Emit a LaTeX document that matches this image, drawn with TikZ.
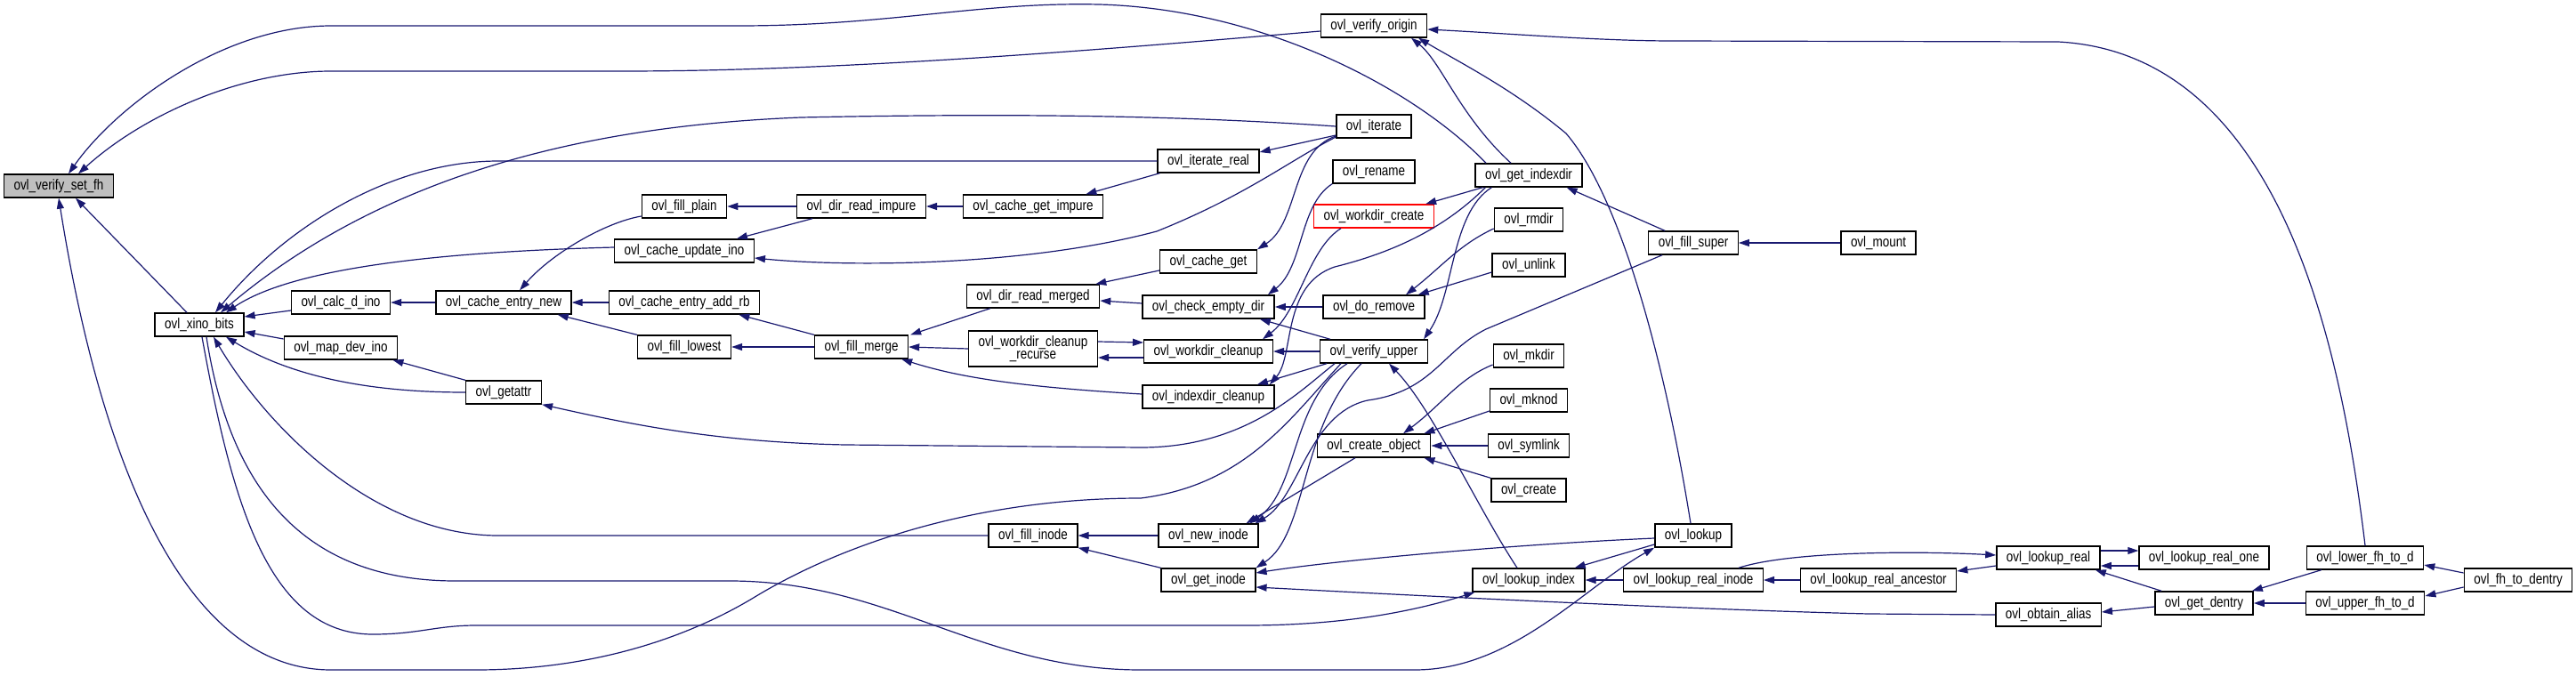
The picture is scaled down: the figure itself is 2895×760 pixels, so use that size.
\documentclass[tikz,border=0pt]{standalone}
\usepackage{fontspec}
\setmainfont[FakeStretch=0.82]{Liberation Sans}
\usetikzlibrary{arrows.meta}
\definecolor{edgeblue}{RGB}{25,25,112}
\definecolor{rootgrey}{RGB}{191,191,191}
\tikzset{
    fn/.style={
        draw=black,
        line width=1.4pt,
        fill=white,
        font=\fontsize{16.4}{14.5}\selectfont,
        align=center,
        inner xsep=11pt,
        inner ysep=2pt,
        minimum height=26pt
    },
    rootfn/.style={
        fn,
        fill=rootgrey
    },
    redfn/.style={
        fn,
        draw=red
    },
    arrow/.style={-{Triangle[length=12pt,width=8pt]}, line width=1.2pt, color=edgeblue}
}

\begin{document}
\begin{tikzpicture}[x=1pt,y=-1pt]
\useasboundingbox (0,0) rectangle (2895,760);

% Function nodes
\node[rootfn] (root) at (66,209) {ovl\_verify\_set\_fh};
\node[fn] (xino) at (224,365) {ovl\_xino\_bits};
\node[fn] (calcdino) at (383,340) {ovl\_calc\_d\_ino};
\node[fn] (mapdev) at (383,391) {ovl\_map\_dev\_ino};
\node[fn] (centrynew) at (566,340) {ovl\_cache\_entry\_new};
\node[fn] (getattr) at (566,441) {ovl\_getattr};
\node[fn] (fillplain) at (769,232) {ovl\_fill\_plain};
\node[fn] (updino) at (769,282) {ovl\_cache\_update\_ino};
\node[fn] (addrb) at (769,340) {ovl\_cache\_entry\_add\_rb};
\node[fn] (filllowest) at (769,390) {ovl\_fill\_lowest};
\node[fn] (direadimpure) at (968,232) {ovl\_dir\_read\_impure};
\node[fn] (fillmerge) at (968,390) {ovl\_fill\_merge};
\node[fn] (cgetimpure) at (1161,232) {ovl\_cache\_get\_impure};
\node[fn] (direadmerged) at (1161,333) {ovl\_dir\_read\_merged};
\node[fn, minimum height=40pt] (wdrecurse) at (1161,392) {ovl\_workdir\_cleanup\\\_recurse};
\node[fn] (fillinode) at (1161,602) {ovl\_fill\_inode};
\node[fn] (iterreal) at (1358,181) {ovl\_iterate\_real};
\node[fn] (cacheget) at (1358,294) {ovl\_cache\_get};
\node[fn] (checkempty) at (1358,345) {ovl\_check\_empty\_dir};
\node[fn] (wdcleanup) at (1358,395) {ovl\_workdir\_cleanup};
\node[fn] (idxcleanup) at (1358,446) {ovl\_indexdir\_cleanup};
\node[fn] (newinode) at (1358,602) {ovl\_new\_inode};
\node[fn] (getinode) at (1358,652) {ovl\_get\_inode};
\node[fn] (vorigin) at (1544,29) {ovl\_verify\_origin};
\node[fn] (iterate) at (1544,142) {ovl\_iterate};
\node[fn] (rename) at (1544,193) {ovl\_rename};
\node[redfn] (wdcreate) at (1544,243) {ovl\_workdir\_create};
\node[fn] (doremove) at (1544,345) {ovl\_do\_remove};
\node[fn] (vupper) at (1544,395) {ovl\_verify\_upper};
\node[fn] (createobj) at (1544,501) {ovl\_create\_object};
\node[fn] (getindexdir) at (1718,197) {ovl\_get\_indexdir};
\node[fn] (rmdir) at (1718,247) {ovl\_rmdir};
\node[fn] (unlink) at (1718,298) {ovl\_unlink};
\node[fn] (mkdir) at (1718,400) {ovl\_mkdir};
\node[fn] (mknod) at (1718,450) {ovl\_mknod};
\node[fn] (symlink) at (1718,501) {ovl\_symlink};
\node[fn] (create) at (1718,551) {ovl\_create};
\node[fn] (lookupindex) at (1718,652) {ovl\_lookup\_index};
\node[fn] (fillsuper) at (1903,273) {ovl\_fill\_super};
\node[fn] (lookup) at (1903,602) {ovl\_lookup};
\node[fn] (realinode) at (1903,652) {ovl\_lookup\_real\_inode};
\node[fn] (mount) at (2111,273) {ovl\_mount};
\node[fn] (ancestor) at (2111,652) {ovl\_lookup\_real\_ancestor};
\node[fn] (lookupreal) at (2302,627) {ovl\_lookup\_real};
\node[fn] (obtainalias) at (2302,691) {ovl\_obtain\_alias};
\node[fn] (realone) at (2477,627) {ovl\_lookup\_real\_one};
\node[fn] (getdentry) at (2477,678) {ovl\_get\_dentry};
\node[fn] (lowerfh) at (2658,627) {ovl\_lower\_fh\_to\_d};
\node[fn] (upperfh) at (2658,678) {ovl\_upper\_fh\_to\_d};
\node[fn] (fhtodentry) at (2830,652) {ovl\_fh\_to\_dentry};

% Calls into ovl_verify_set_fh
\draw[arrow] ([yshift=-6pt]vorigin.west) .. controls (1250,55) and (950,80) .. (700,80) -- (372,80) .. controls (270,80) and (160,130) .. ([xshift=22pt]root.north);
\draw[arrow] ([xshift=-48pt]getindexdir.north) .. controls (1590,100) and (1420,10) .. (1235,5) .. controls (1100,2) and (1000,29) .. (830,29) -- (372,29) .. controls (250,29) and (130,120) .. ([xshift=11pt]root.north);
\draw[arrow] ([xshift=-14pt]xino.north) -- ([xshift=19pt]root.south);
\draw[arrow] ([xshift=-37pt]vupper.south) .. controls (1450,470) and (1400,545) .. (1282,560) .. controls (1100,560) and (950,610) .. (850,670) .. controls (760,725) and (650,753) .. (535,753) -- (372,753) .. controls (200,753) and (110,500) .. (root.south);

% ovl_xino_bits
\draw[arrow] ([yshift=-9pt]calcdino.west) -- ([yshift=9pt]xino.east);
\draw[arrow] ([yshift=10pt]mapdev.west) -- ([yshift=-8pt]xino.east);
\draw[arrow] (iterreal.west) -- (560,181) .. controls (440,181) and (320,255) .. ([xshift=18pt]xino.north);
\draw[arrow] (iterate.west) .. controls (1300,128) and (1100,128) .. (900,132) .. controls (700,140) and (450,180) .. ([xshift=24pt]xino.north);
\draw[arrow] ([yshift=4pt]updino.west) .. controls (500,283) and (330,300) .. ([xshift=30pt]xino.north);
\draw[arrow] (getattr.west) .. controls (420,441) and (330,425) .. ([xshift=30pt]xino.south);
\draw[arrow] (fillinode.west) -- (560,602) .. controls (420,602) and (300,480) .. ([xshift=16pt]xino.south);
\draw[arrow] ([xshift=3pt]xino.south) .. controls (260,560) and (300,713) .. (419,713) .. controls (470,713) and (490,703) .. (535,703) -- (1400,703) .. controls (1500,703) and (1580,690) .. ([xshift=3pt]lookupindex.south west);
\draw[arrow] ([xshift=8pt]xino.south) .. controls (260,560) and (350,653) .. (512,653) -- (820,653) .. controls (1000,653) and (1100,753) .. (1282,753) -- (1590,753) .. controls (1700,753) and (1780,660) .. (lookup.south west);

% readdir cache
\draw[arrow] (centrynew.west) -- (calcdino.east);
\draw[arrow] (getattr.north west) -- ([xshift=-6pt]mapdev.south east);
\draw[arrow] (addrb.west) -- (centrynew.east);
\draw[arrow] (filllowest.north west) -- ([xshift=-16pt]centrynew.south east);
\draw[arrow] ([yshift=-11pt]fillplain.west) .. controls (680,250) and (620,285) .. ([xshift=18pt]centrynew.north);
\draw[arrow] (direadimpure.west) -- (fillplain.east);
\draw[arrow] ([xshift=18pt]direadimpure.south west) -- ([xshift=-20pt]updino.north east);
\draw[arrow] (cgetimpure.west) -- (direadimpure.east);
\draw[arrow] ([xshift=3pt]iterreal.south west) -- ([xshift=-20pt]cgetimpure.north east);
\draw[arrow] (fillmerge.west) -- (filllowest.east);
\draw[arrow] (fillmerge.north west) -- ([xshift=-24pt]addrb.south east);
\draw[arrow] ([xshift=27pt]direadmerged.south west) -- ([xshift=2pt]fillmerge.north east);
\draw[arrow] (wdrecurse.west) -- (fillmerge.east);
\draw[arrow] ([yshift=3pt]idxcleanup.west) .. controls (1150,435) and (1080,425) .. ([xshift=-8pt]fillmerge.south east);
\draw[arrow] ([yshift=-10pt]cacheget.west) -- ([xshift=-5pt]direadmerged.north east);
\draw[arrow] ([yshift=4pt]checkempty.west) -- ([yshift=-5pt]direadmerged.east);
\draw[arrow] ([yshift=8pt]wdrecurse.east) -- ([yshift=10pt]wdcleanup.west);
\draw[arrow] ([yshift=-7pt]wdcleanup.west) -- ([yshift=-10pt]wdrecurse.east);

% ovl_iterate and friends
\draw[arrow] ([yshift=-10pt]iterate.west) -- ([yshift=10pt]iterreal.east);
\draw[arrow] ([yshift=-11pt]iterate.west) .. controls (1450,170) and (1460,250) .. (cacheget.north east);
\draw[arrow] ([yshift=-12pt]iterate.west) .. controls (1450,180) and (1400,220) .. (1300,260) .. controls (1150,300) and (950,300) .. ([yshift=-8pt]updino.east);
\draw[arrow] (rename.south west) .. controls (1460,230) and (1465,300) .. ([xshift=-8pt]checkempty.north east);
\draw[arrow] ([xshift=-37pt]wdcreate.south) .. controls (1470,280) and (1460,350) .. ([xshift=-12pt]wdcleanup.north east);

% ovl_get_indexdir and the mount path
\draw[arrow] ([xshift=9pt]getindexdir.south west) -- ([xshift=-10pt]wdcreate.north east);
\draw[arrow] ([xshift=12pt]getindexdir.south west) .. controls (1620,260) and (1560,285) .. (1500,300) .. controls (1440,320) and (1455,400) .. ([xshift=-6pt]idxcleanup.north east);
\draw[arrow] ([xshift=19pt]getindexdir.south west) .. controls (1630,240) and (1635,330) .. ([xshift=-5pt]vupper.north east);
\draw[arrow] ([xshift=-20pt]getindexdir.north) .. controls (1640,130) and (1620,70) .. ([xshift=42pt]vorigin.south);
\draw[arrow] ([xshift=19pt]fillsuper.north west) -- ([xshift=-18pt]getindexdir.south east);
\draw[arrow] (mount.west) -- (fillsuper.east);
\draw[arrow] ([xshift=16pt]fillsuper.south west) -- (1670,370) .. controls (1620,395) and (1610,440) .. (1537,450) .. controls (1470,465) and (1460,560) .. ([xshift=-4pt]newinode.north east);
\draw[arrow] ([xshift=-3pt]lookup.north) .. controls (1870,400) and (1820,220) .. (1760,150) .. controls (1700,100) and (1640,70) .. ([xshift=50pt]vorigin.south);
\draw[arrow] (lowerfh.north) .. controls (2630,380) and (2560,60) .. (2313,47) -- (1880,46) .. controls (1800,46) and (1700,38) .. ([yshift=-4pt]vorigin.east);

% ovl_verify_upper and directory operations
\draw[arrow] ([xshift=-13pt]lookupindex.north) .. controls (1660,570) and (1610,460) .. ([xshift=17pt]vupper.south);
\draw[arrow] ([yshift=-10pt]rmdir.west) .. controls (1640,275) and (1620,300) .. ([xshift=36pt]doremove.north);
\draw[arrow] ([yshift=-8pt]unlink.west) -- ([xshift=-8pt]doremove.north east);
\draw[arrow] (doremove.west) -- (checkempty.east);
\draw[arrow] ([xshift=12pt]vupper.north west) -- ([xshift=-17pt]checkempty.south east);
\draw[arrow] (vupper.west) -- (wdcleanup.east);
\draw[arrow] ([xshift=8pt]vupper.south west) -- ([xshift=-20pt]idxcleanup.north east);
\draw[arrow] ([xshift=-44pt]vupper.south) .. controls (1460,440) and (1400,503) .. (1282,503) -- (950,500) .. controls (800,497) and (700,475) .. (getattr.south east);
\draw[arrow] ([xshift=-30pt]vupper.south) .. controls (1450,450) and (1460,550) .. ([xshift=-10pt]newinode.north east);
\draw[arrow] ([xshift=-14pt]vupper.south) .. controls (1460,480) and (1470,600) .. (getinode.north east);
\draw[arrow] ([xshift=-21pt]createobj.south) -- ([xshift=-14pt]newinode.north east);
\draw[arrow] ([yshift=-10pt]mkdir.west) .. controls (1640,425) and (1620,455) .. ([xshift=33pt]createobj.north);
\draw[arrow] ([yshift=-12pt]mknod.west) -- ([xshift=-8pt]createobj.north east);
\draw[arrow] (symlink.west) -- (createobj.east);
\draw[arrow] (create.north west) -- ([xshift=-8pt]createobj.south east);

% inodes and lookup
\draw[arrow] (newinode.west) -- (fillinode.east);
\draw[arrow] (getinode.north west) -- (fillinode.south east);
\draw[arrow] ([yshift=-3pt]lookup.west) .. controls (1700,612) and (1500,630) .. ([yshift=8pt]getinode.east);
\draw[arrow] (obtainalias.west) -- (2100,690) .. controls (1900,685) and (1600,670) .. ([yshift=-8pt]getinode.east);
\draw[arrow] ([yshift=-10pt]lookup.west) -- ([xshift=-12pt]lookupindex.north east);
\draw[arrow] (realinode.west) -- (lookupindex.east);
\draw[arrow] ([xshift=51pt]realinode.north) .. controls (2010,620) and (2150,619) .. ([yshift=3pt]lookupreal.west);
\draw[arrow] (ancestor.west) -- (realinode.east);
\draw[arrow] ([yshift=-9pt]lookupreal.west) -- ([yshift=10pt]ancestor.east);
\draw[arrow] ([yshift=8pt]lookupreal.east) -- ([yshift=8pt]realone.west);
\draw[arrow] ([yshift=-9pt]realone.west) -- ([yshift=-9pt]lookupreal.east);
\draw[arrow] ([xshift=8pt]getdentry.north west) -- ([xshift=-6pt]lookupreal.south east);
\draw[arrow] ([yshift=-4pt]getdentry.west) -- ([yshift=3pt]obtainalias.east);
\draw[arrow] ([xshift=17pt]lowerfh.south west) -- ([xshift=-2pt]getdentry.north east);
\draw[arrow] (upperfh.west) -- (getdentry.east);
\draw[arrow] ([yshift=8pt]fhtodentry.west) -- ([yshift=-8pt]lowerfh.east);
\draw[arrow] ([yshift=-8pt]fhtodentry.west) -- ([yshift=8pt]upperfh.east);

\end{tikzpicture}
\end{document}
